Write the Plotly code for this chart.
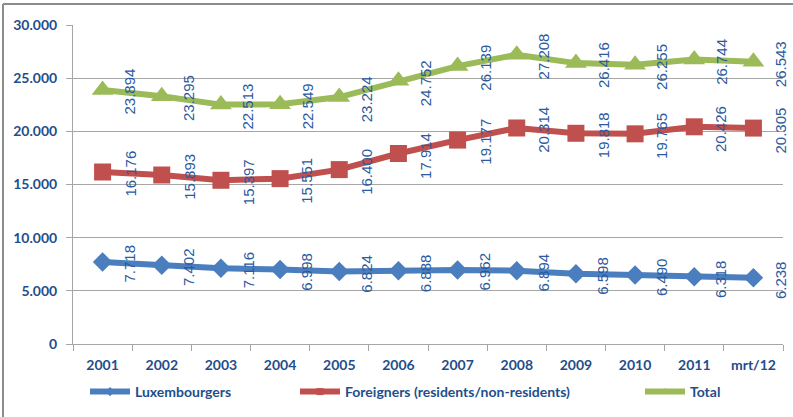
import plotly.graph_objects as go

categories = ["2001", "2002", "2003", "2004", "2005", "2006", "2007", "2008", "2009", "2010", "2011", "mrt/12"]
luxembourgers = [7718, 7402, 7116, 6998, 6824, 6888, 6962, 6894, 6598, 6490, 6318, 6238]
foreigners = [16176, 15893, 15397, 15551, 16400, 17914, 19177, 20314, 19818, 19765, 20426, 20305]
total = [23894, 23295, 22513, 22549, 23224, 24752, 26139, 27208, 26416, 26255, 26744, 26543]
y_ticks = [0, 5000, 10000, 15000, 20000, 25000, 30000]

series = [
    ("Luxembourgers", luxembourgers, "#4A7EBE", "diamond", 15, "legend"),
    ("Foreigners (residents/non-residents)", foreigners, "#C0504D", "square", 17, "legend2"),
    ("Total", total, "#9BBB59", "triangle-up", 19, "legend3"),
]

tick_color = "#1F4E8C"
label_color = "#2B5AA0"

fig = go.Figure()
for name, vals, color, sym, size, leg in series:
    fig.add_trace(go.Scatter(
        x=categories, y=vals, name=name, mode="lines+markers",
        line=dict(color=color, width=6),
        marker=dict(symbol=sym, size=size, color=color),
        showlegend=False, hoverinfo="skip",
    ))
# legend-only entries with small markers, as in the reference legend
for name, vals, color, sym, size, leg in series:
    fig.add_trace(go.Scatter(
        x=[None], y=[None], name=name, mode="lines+markers",
        line=dict(color=color, width=6),
        marker=dict(symbol=sym, size=7, color=color),
        legend=leg, showlegend=True,
    ))

def fmt(v):
    return f"{v:,}".replace(",", ".")

annotations = []
for name, vals, color, sym, size, leg in series:
    for i, v in enumerate(vals):
        annotations.append(dict(
            x=i, y=v, xref="x", yref="y", text=fmt(v), showarrow=False,
            textangle=-90, xshift=27, yshift=-2,
            font=dict(family="Liberation Sans, Arial", size=15, color=label_color),
        ))

legend_common = dict(orientation="h", yanchor="middle", xanchor="left",
                     bgcolor="rgba(0,0,0,0)", visible=True, itemwidth=40,
                     font=dict(family="Lato, Open Sans", size=14, color=tick_color, weight="bold"))

def px_x(p):
    return (p - 73) / 710

ly = (344 - 392) / 319

fig.update_layout(
    width=793, height=417,
    margin=dict(l=73, r=10, t=25, b=73, autoexpand=False),
    paper_bgcolor="white", plot_bgcolor="white",
    separators=",.",
    showlegend=True,
    annotations=annotations,
    legend=dict(x=px_x(85), y=ly, **legend_common),
    legend2=dict(x=px_x(295), y=ly, **legend_common),
    legend3=dict(x=px_x(640), y=ly, **legend_common),
    xaxis=dict(
        type="category", range=[-0.5, len(categories) - 0.5],
        showgrid=False, showline=True, linecolor="#A6A6A6", linewidth=1,
        ticks="outside", tickson="boundaries", ticklen=6, tickcolor="#A6A6A6",
        tickfont=dict(family="Lato, Open Sans", size=14, color=tick_color, weight="bold"),
        tickangle=0, fixedrange=True, automargin=False, ticklabelstandoff=8,
    ),
    yaxis=dict(
        range=[0, 30000], tickvals=y_ticks, tickformat=",d",
        showgrid=True, gridcolor="#A6A6A6", gridwidth=1,
        showline=True, linecolor="#A6A6A6", linewidth=1,
        ticks="outside", ticklen=6, tickcolor="#A6A6A6", zeroline=False,
        tickfont=dict(family="Lato, Open Sans", size=14, color=tick_color, weight="bold"),
        ticklabelstandoff=6, automargin=False, fixedrange=True,
    ),
    shapes=[
        dict(type="line", xref="paper", yref="paper", x0=px_x(3), x1=px_x(793), y0=1 + 21 / 319, y1=1 + 21 / 319,
             line=dict(color="#8C8C8C", width=2)),
        dict(type="line", xref="paper", yref="paper", x0=px_x(3), x1=px_x(3), y0=-73 / 319, y1=1 + 21 / 319,
             line=dict(color="#8C8C8C", width=2)),
    ],
)

fig.write_html("out.html", config={"displayModeBar": False},
               post_script="document.body.style.margin='0';")
